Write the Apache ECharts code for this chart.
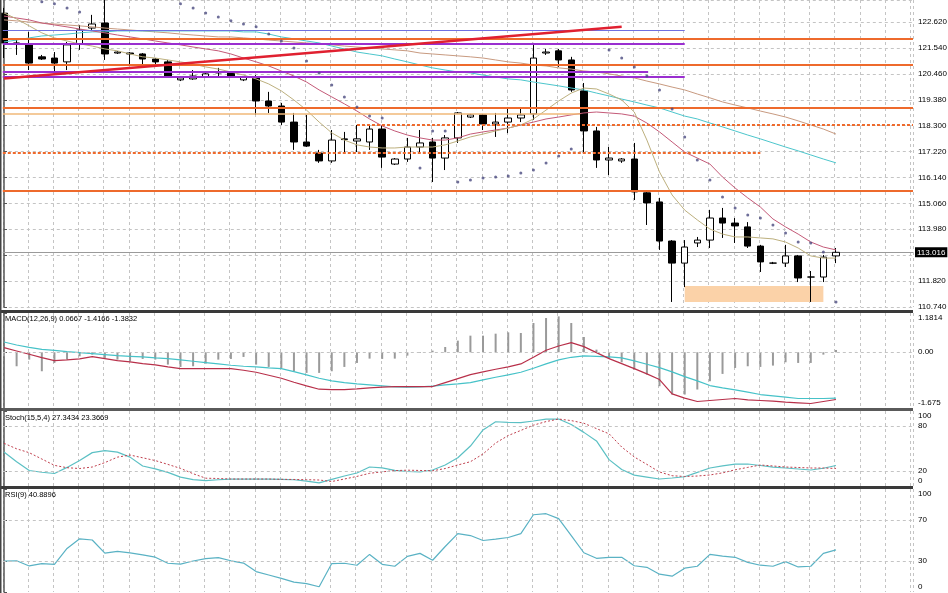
<!DOCTYPE html>
<html>
<head>
<meta charset="utf-8">
<script src="https://cdn.jsdelivr.net/npm/echarts@6/dist/echarts.min.js"></script>
<style>html,body{margin:0;padding:0;background:#fff}#c{width:948px;height:593px}</style>
</head>
<body>
<div id="c"></div>
<script>
// ---------- DATA ----------
// candles: [open, close, low, high], one per bar (bar index = position)
const candles = [
[122.99,121.75,121.12,123.21],[121.75,121.71,121.25,121.87],[121.67,120.91,120.62,122.21],[121.17,121.08,121.04,121.25],
[121.12,120.91,120.54,121.37],[120.96,121.67,120.62,121.79],[121.71,122.29,121.46,122.50],[122.37,122.54,122.29,122.92],
[122.58,121.29,121.04,123.60],[121.33,121.37,121.29,121.41],[121.33,121.29,120.83,121.37],[121.29,121.08,120.83,121.33],
[121.08,120.96,120.87,121.12],[120.96,120.37,120.29,121.04],[120.21,120.29,120.16,120.33],[120.25,120.37,120.21,120.62],
[120.33,120.46,120.29,120.50],[120.50,120.54,120.33,120.71],[120.50,120.37,120.33,120.54],[120.21,120.33,120.16,120.37],
[120.29,119.33,118.75,120.41],[119.33,119.12,118.83,119.71],[119.12,118.45,118.33,119.25],[118.45,117.62,117.29,118.83],
[117.62,117.45,117.41,118.75],[117.16,116.83,116.75,117.29],[116.83,117.70,116.75,118.12],[117.72,117.75,117.20,118.04],
[117.66,117.75,117.20,118.33],[117.62,118.16,117.29,118.33],[118.16,116.99,116.54,118.33],[116.70,116.91,116.66,116.95],
[116.91,117.41,116.79,117.79],[117.41,117.58,117.16,118.12],[117.62,116.95,115.95,117.79],[116.95,117.79,116.45,117.91],
[117.79,118.83,117.58,118.87],[118.66,118.75,118.62,118.79],[118.75,118.37,118.12,118.79],[118.37,118.45,117.83,118.83],
[118.45,118.62,117.99,119.08],[118.62,118.75,118.45,119.04],[118.79,121.12,118.54,121.75],[121.33,121.37,121.25,121.50],
[121.42,121.04,120.75,121.50],[121.04,119.79,119.71,121.17],[119.75,118.08,117.16,120.08],[118.08,116.87,116.54,118.25],
[116.87,116.95,116.24,117.41],[116.83,116.91,116.75,116.95],[116.91,115.54,115.20,117.58],[115.50,115.08,114.16,115.54],
[115.12,113.49,113.12,115.29],[113.49,112.57,110.95,113.53],[112.57,113.24,111.57,113.53],[113.41,113.53,113.24,113.66],
[113.53,114.45,113.20,114.79],[114.45,114.24,113.62,114.87],[114.24,114.12,113.41,114.45],[114.08,113.28,113.20,114.28],
[113.28,112.62,112.20,113.33],[112.57,112.57,112.53,112.62],[112.57,112.87,112.41,113.33],[112.87,111.95,111.78,112.91],
[111.99,111.99,110.95,112.24],[111.99,112.82,111.78,112.91],[112.87,113.02,112.57,113.20]
];
const maFast = [123.00,122.75,122.46,122.17,121.96,121.83,121.71,121.62,121.50,121.42,121.29,121.17,121.12,121.04,120.96,120.87,120.75,120.66,120.54,120.41,120.25,120.04,119.75,119.37,118.95,118.45,118.00,117.70,117.50,117.41,117.37,117.37,117.41,117.41,117.41,117.50,117.66,117.83,117.95,118.08,118.20,118.33,118.58,118.95,119.33,119.66,119.87,119.83,119.62,119.37,118.87,117.70,116.37,115.41,114.78,114.37,113.99,113.78,113.66,113.66,113.62,113.58,113.45,113.20,112.87,112.78,112.78];
const maMid = [122.87,122.79,122.71,122.58,122.50,122.42,122.33,122.25,122.17,122.08,122.00,121.92,121.83,121.75,121.67,121.58,121.50,121.42,121.29,121.12,120.96,120.79,120.58,120.37,120.12,119.79,119.50,119.21,118.91,118.58,118.29,118.08,117.91,117.79,117.70,117.70,117.79,117.95,118.04,118.12,118.20,118.33,118.45,118.58,118.66,118.75,118.83,118.87,118.83,118.79,118.70,118.41,118.04,117.62,117.20,116.95,116.70,116.16,115.70,115.29,114.91,114.41,114.08,113.78,113.45,113.24,113.12];
const maSlow = [121.79,121.87,121.96,122.04,122.08,122.12,122.17,122.21,122.21,122.25,122.25,122.25,122.25,122.25,122.25,122.25,122.25,122.25,122.25,122.21,122.21,122.12,122.00,121.92,121.83,121.75,121.62,121.50,121.37,121.29,121.21,121.08,120.96,120.83,120.71,120.62,120.54,120.50,120.41,120.33,120.25,120.21,120.12,120.04,119.96,119.87,119.79,119.66,119.54,119.41,119.29,119.16,119.04,118.87,118.70,118.58,118.41,118.25,118.08,117.91,117.75,117.58,117.41,117.25,117.08,116.91,116.75];
const maSlowest = [122.71,122.67,122.62,122.58,122.54,122.50,122.46,122.42,122.37,122.33,122.29,122.25,122.21,122.17,122.12,122.08,122.04,122.00,122.00,121.96,121.92,121.87,121.83,121.79,121.75,121.71,121.67,121.62,121.58,121.54,121.50,121.46,121.42,121.33,121.29,121.25,121.21,121.17,121.12,121.04,120.96,120.91,120.83,120.79,120.71,120.66,120.58,120.54,120.46,120.37,120.29,120.16,120.04,119.91,119.79,119.62,119.46,119.29,119.16,119.04,118.91,118.79,118.66,118.50,118.33,118.16,117.95];
const sar = [null,null,null,123.47,123.38,123.21,123.04,null,null,null,null,null,null,null,123.38,123.21,123.00,122.83,122.67,122.54,122.42,122.12,121.83,121.54,121.00,120.50,120.00,119.50,119.08,118.70,118.62,null,null,116.54,118.08,118.08,115.95,116.04,116.12,116.16,116.20,116.33,116.45,116.74,117.04,117.33,null,null,121.46,121.12,120.75,120.37,119.79,119.00,117.83,116.87,116.04,115.33,114.87,114.58,114.45,114.16,113.83,113.45,113.41,113.03,110.95];
const macdHist = [-0.12,-0.42,-0.22,-0.57,-0.32,-0.22,-0.12,-0.07,-0.17,-0.22,-0.27,-0.20,-0.22,-0.37,-0.44,-0.42,-0.34,-0.22,-0.20,-0.14,-0.37,-0.44,-0.47,-0.57,-0.62,-0.62,-0.57,-0.44,-0.32,-0.19,-0.20,-0.19,-0.10,-0.02,0.05,0.16,0.35,0.50,0.50,0.56,0.60,0.58,0.88,1.03,1.08,0.88,0.46,0.08,-0.20,-0.30,-0.52,-0.67,-1.02,-1.27,-1.27,-1.12,-0.87,-0.65,-0.47,-0.42,-0.44,-0.40,-0.30,-0.32,-0.32,-0.07,0.07];
const macdLineA = [0.31,0.22,0.15,0.09,0.06,0.02,-0.01,-0.04,-0.07,-0.10,-0.12,-0.14,-0.17,-0.19,-0.23,-0.27,-0.31,-0.35,-0.39,-0.42,-0.44,-0.47,-0.49,-0.58,-0.68,-0.78,-0.86,-0.91,-0.95,-0.98,-1.01,-1.04,-1.05,-1.04,-1.02,-0.98,-0.95,-0.91,-0.83,-0.75,-0.68,-0.60,-0.48,-0.35,-0.23,-0.15,-0.11,-0.12,-0.14,-0.17,-0.26,-0.36,-0.46,-0.59,-0.73,-0.86,-1.00,-1.07,-1.13,-1.20,-1.27,-1.31,-1.35,-1.39,-1.39,-1.39,-1.38];
const macdLineB = [0.14,0.04,-0.06,-0.16,-0.25,-0.23,-0.20,-0.13,-0.19,-0.25,-0.29,-0.34,-0.38,-0.44,-0.49,-0.49,-0.49,-0.49,-0.49,-0.54,-0.60,-0.69,-0.78,-0.90,-1.01,-1.11,-1.12,-1.12,-1.10,-1.07,-1.05,-1.03,-1.03,-1.03,-1.03,-0.91,-0.79,-0.67,-0.59,-0.51,-0.44,-0.35,-0.15,0.06,0.19,0.29,0.17,-0.01,-0.19,-0.34,-0.49,-0.65,-0.82,-1.25,-1.38,-1.48,-1.45,-1.42,-1.39,-1.43,-1.45,-1.47,-1.50,-1.52,-1.54,-1.48,-1.42];
const stochK = [45.3,32.4,20.7,18.3,16.7,24.8,34.1,44.5,47.2,45.2,38.5,26.7,22.8,18.1,11.9,8.5,7.2,8.3,9.2,9.3,9.3,9.2,8.8,8.3,6.5,4.1,8.8,13.3,17.3,25.3,24.1,20.8,19.3,18.7,21.3,28.0,37.7,53.3,74.7,85.7,84.9,84.4,86.7,89.2,89.3,82.0,71.5,60.1,35.2,22.0,14.5,11.9,9.3,10.7,12.3,18.1,24.0,26.9,29.1,29.3,27.3,25.1,24.0,22.7,21.3,23.7,27.3];
const stochD = [56.9,49.6,44.4,36.0,27.5,24.4,23.3,25.3,31.2,38.5,41.3,37.6,33.9,28.8,23.5,16.4,10.4,10.0,9.3,9.3,9.3,9.3,8.9,8.7,8.4,8.0,6.0,9.3,12.8,16.9,18.9,20.5,21.1,20.7,20.3,23.3,28.0,32.4,42.7,57.3,67.3,74.1,81.1,85.9,89.3,87.2,83.7,76.5,69.6,52.0,38.7,28.8,18.7,13.7,12.7,13.3,14.7,17.5,21.6,24.8,28.0,26.7,25.3,24.7,24.0,24.0,23.4];
const rsi = [30.1,30.3,25.3,27.6,26.9,42.3,51.6,50.5,37.8,39.4,37.9,36.1,33.8,27.9,27.1,30.1,32.4,33.4,30.3,28.1,19.8,16.5,13.2,9.6,8.1,5.1,27.6,27.9,26.0,36.5,26.9,25.0,34.6,37.5,30.8,44.2,56.7,54.8,50.0,51.3,52.9,56.7,75.0,76.0,71.2,54.8,38.1,32.7,33.7,33.7,25.5,24.0,17.3,15.4,23.1,25.0,36.5,34.9,33.7,28.8,26.0,25.0,29.5,24.3,25.0,37.5,40.9];

// horizontal levels: price, start bar (null = left edge), end bar (null = right edge)
const levelPrice = [122.29, 121.93, 121.70, 120.83, 120.54, 120.33, 119.03, 118.80, 118.33, 117.16, 115.58];
const levelFrom  = [null,   null,   null,   null,   null,   null,   null,   null,   28,     null,   null];
const levelTo    = [54,     null,   54,     null,   51.1,   54,     null,   45.7,   null,   60,     null];
const levelKind  = ['blue','orange','purple','orange','purple','purple','orange','tan','dash','dash','orange'];
const trendStart = [0, 120.27];   // [bar, price]
const trendEnd   = [49.0, 122.42];
const zoneBars   = [54, 65];
const zonePrices = [110.95, 111.62];
const bidPrice   = 113.016;

// axis values
const priceMin = 110.74, priceMax = 123.54, priceStep = 1.08;
const macdMin = -1.675, macdMax = 1.1814;
const stochTicks = [0, 20, 80, 100];
const rsiTicks = [0, 30, 70, 100];
const stochLevels = [20, 80];
const rsiLevels = [30, 70];
const labels = ['MACD(12,26,9) 0.0667 -1.4166 -1.3832', 'Stoch(15,5,4) 27.3434 23.3669', 'RSI(9) 40.8896'];

// ---------- CHART ----------
const FONT = 'Liberation Sans, Arial, sans-serif';
const GRID = '#c4c4c4';
const xMin = -0.096, xMax = 72.11;
const chart = echarts.init(document.getElementById('c'), null, {renderer: 'canvas'});
const idx = a => a.map((v, i) => [i, v]);

const styles = {
  blue:   {color: '#6f6fe0', width: 1.2, type: 'solid'},
  orange: {color: '#ee6a2c', width: 1.8, type: 'solid'},
  purple: {color: '#9a2fd0', width: 2, type: 'solid'},
  tan:    {color: '#f0b878', width: 1.5, type: 'solid'},
  dash:   {color: '#ee6a2c', width: 1.8, type: [3, 2]}
};
const levelLines = levelPrice.map((p, k) => {
  const st = styles[levelKind[k]];
  return [{coord: [levelFrom[k] == null ? xMin : levelFrom[k], p], lineStyle: st},
          {coord: [levelTo[k] == null ? xMax : levelTo[k], p]}];
});
levelLines.push([{coord: trendStart, lineStyle: {color: '#e02030', width: 2.5, type: 'solid'}}, {coord: trendEnd}]);

const xAxisBase = gi => ({
  type: 'value', gridIndex: gi, min: xMin, max: xMax, interval: 2,
  axisLine: {show: false}, axisTick: {show: false}, axisLabel: {show: false},
  splitLine: {show: true, lineStyle: {color: GRID, type: [3, 3], width: 1}}
});
const lab = {fontFamily: FONT, fontSize: 8, color: '#000', margin: 5, lineHeight: 10};
const yAxisCommon = {
  position: 'right',
  axisLine: {show: true, lineStyle: {color: '#555', width: 1.5}},
  axisTick: {show: true, length: 3, lineStyle: {color: '#555'}}
};
const near = (a, b) => Math.abs(a - b) < 1e-6;
const gridBase = {left: 2.8, right: 35, outerBoundsMode: 'none', containLabel: false};
const titleStyle = {fontFamily: FONT, fontSize: 7.5, fontWeight: 'normal', color: '#000'};
const edgeFmt = v => v === 100 ? '\n100' : v === 0 ? '0\n' : String(v);

const option = {
  animation: false,
  backgroundColor: '#fff',
  title: [
    {text: labels[0], left: 5, top: 315, padding: 0, textStyle: titleStyle},
    {text: labels[1], left: 5, top: 414, padding: 0, textStyle: titleStyle},
    {text: labels[2], left: 5, top: 491, padding: 0, textStyle: titleStyle}
  ],
  grid: [
    Object.assign({}, gridBase, {top: 0, height: 307}),
    Object.assign({}, gridBase, {top: 313, height: 95}),
    Object.assign({}, gridBase, {top: 411, height: 75}),
    Object.assign({}, gridBase, {top: 489, height: 103})
  ],
  xAxis: [xAxisBase(0), xAxisBase(1), xAxisBase(2), xAxisBase(3)],
  yAxis: [
    Object.assign({}, yAxisCommon, {type: 'value', gridIndex: 0, min: priceMin, max: priceMax, interval: priceStep,
      axisLabel: Object.assign({}, lab, {showMaxLabel: false, formatter: v => v.toFixed(3)}),
      splitLine: {show: true, lineStyle: {color: GRID, type: [3, 3]}}}),
    Object.assign({}, yAxisCommon, {type: 'value', gridIndex: 1, min: macdMin, max: macdMax, interval: -macdMin,
      axisLabel: Object.assign({}, lab, {formatter: v => near(v, macdMax) ? '\n' + macdMax.toFixed(4) : near(v, 0) ? '0.00' : near(v, macdMin) ? macdMin.toFixed(3) + '\n' : ''}),
      splitLine: {show: false}}),
    Object.assign({}, yAxisCommon, {type: 'value', gridIndex: 2, min: 0, max: 100, interval: 20,
      axisTick: {show: true, length: 3, lineStyle: {color: '#555'}, customValues: stochTicks},
      axisLabel: Object.assign({}, lab, {customValues: stochTicks, formatter: v => stochTicks.includes(v) ? edgeFmt(v) : ''}),
      splitLine: {show: false}}),
    Object.assign({}, yAxisCommon, {type: 'value', gridIndex: 3, min: 0, max: 100, interval: 10,
      axisTick: {show: true, length: 3, lineStyle: {color: '#555'}, customValues: rsiTicks},
      axisLabel: Object.assign({}, lab, {customValues: rsiTicks, formatter: v => rsiTicks.includes(v) ? edgeFmt(v) : ''}),
      splitLine: {show: false}})
  ],
  graphic: [
    {type: 'rect', shape: {x: 0, y: 310, width: 913, height: 3}, style: {fill: '#3a3a3a'}, z: 100},
    {type: 'rect', shape: {x: 0, y: 408, width: 913, height: 3}, style: {fill: '#5a5a5a'}, z: 100},
    {type: 'rect', shape: {x: 0, y: 486, width: 913, height: 3}, style: {fill: '#3a3a3a'}, z: 100},
    {type: 'rect', shape: {x: 0, y: 0, width: 1.5, height: 593}, style: {fill: '#444'}, z: 100}
  ],
  series: [
    {type: 'line', xAxisIndex: 0, yAxisIndex: 0, data: [], z: 1, silent: true,
      markArea: {silent: true, itemStyle: {color: '#fbd2a8'},
        data: [[{coord: [zoneBars[0], zonePrices[1]]}, {coord: [zoneBars[1], zonePrices[0]]}]]}},
    {type: 'candlestick', xAxisIndex: 0, yAxisIndex: 0, clip: false, barWidth: 7, z: 3,
      data: candles.map((c, i) => [i, c[0], c[1], c[2], c[3]]),
      itemStyle: {color: '#fff', color0: '#000', borderColor: '#000', borderColor0: '#000', borderWidth: 1},
      markLine: {silent: true, symbol: 'none', animation: false, z: 2,
        lineStyle: {color: '#9a9a9a', width: 1, type: 'solid'},
        label: {show: true, position: 'end', distance: 2, formatter: bidPrice.toFixed(3), backgroundColor: '#000', color: '#fff',
          fontFamily: FONT, fontSize: 8, padding: [1, 2, 1, 2]},
        data: [{yAxis: bidPrice}]}},
    {type: 'line', xAxisIndex: 0, yAxisIndex: 0, data: idx(maSlowest), showSymbol: false, z: 4,
      lineStyle: {color: '#c89a80', width: 1},
      markLine: {silent: true, symbol: 'none', animation: false, label: {show: false}, data: levelLines}},
    {type: 'line', xAxisIndex: 0, yAxisIndex: 0, data: idx(maSlow), showSymbol: false, z: 4, lineStyle: {color: '#4cc6cc', width: 1}},
    {type: 'line', xAxisIndex: 0, yAxisIndex: 0, data: idx(maMid), showSymbol: false, z: 4, lineStyle: {color: '#c45a78', width: 1}},
    {type: 'line', xAxisIndex: 0, yAxisIndex: 0, data: idx(maFast), showSymbol: false, z: 4, lineStyle: {color: '#bdb07e', width: 1}},
    {type: 'scatter', xAxisIndex: 0, yAxisIndex: 0, data: sar.map((v, i) => v == null ? null : [i, v]).filter(d => d), symbolSize: 3, z: 5,
      itemStyle: {color: '#4a4a80'}},

    {type: 'bar', xAxisIndex: 1, yAxisIndex: 1, data: idx(macdHist), barWidth: 2, itemStyle: {color: '#9a9a9a'},
      markLine: {silent: true, symbol: 'none', label: {show: false}, lineStyle: {color: GRID, type: [3, 3], width: 1}, data: [{yAxis: 0}]}},
    {type: 'line', xAxisIndex: 1, yAxisIndex: 1, data: idx(macdLineA), showSymbol: false, lineStyle: {color: '#46c2c8', width: 1.2}},
    {type: 'line', xAxisIndex: 1, yAxisIndex: 1, data: idx(macdLineB), showSymbol: false, lineStyle: {color: '#b8304a', width: 1.2}},

    {type: 'line', xAxisIndex: 2, yAxisIndex: 2, data: idx(stochK), showSymbol: false, lineStyle: {color: '#5cc0c4', width: 1.2},
      markLine: {silent: true, symbol: 'none', label: {show: false}, lineStyle: {color: GRID, type: [3, 3], width: 1},
        data: stochLevels.map(v => ({yAxis: v}))}},
    {type: 'line', xAxisIndex: 2, yAxisIndex: 2, data: idx(stochD), showSymbol: false, lineStyle: {color: '#c0404e', width: 1, type: [2, 2]}},

    {type: 'line', xAxisIndex: 3, yAxisIndex: 3, data: idx(rsi), showSymbol: false, lineStyle: {color: '#5ab2c4', width: 1.2},
      markLine: {silent: true, symbol: 'none', label: {show: false}, lineStyle: {color: GRID, type: [3, 3], width: 1},
        data: rsiLevels.map(v => ({yAxis: v}))}}
  ]
};
chart.setOption(option);
</script>
</body>
</html>
